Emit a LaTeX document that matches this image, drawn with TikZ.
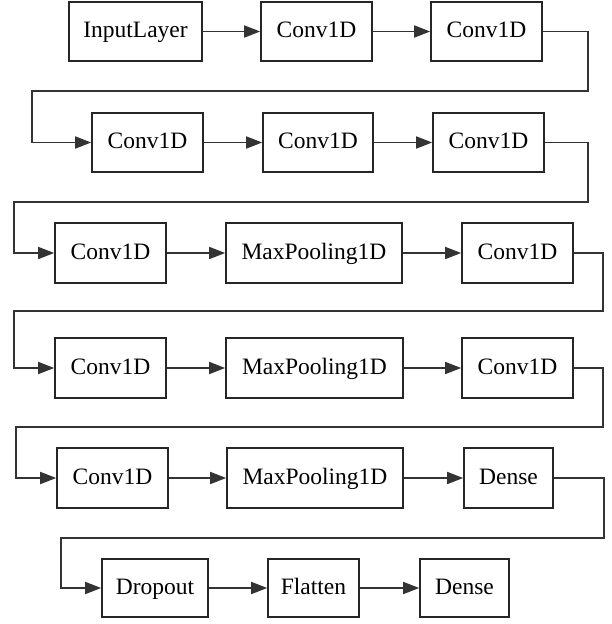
\documentclass[tikz,border=0pt]{standalone}
\usepackage{fontspec}
\setmainfont{Liberation Serif}
\usetikzlibrary{arrows.meta}
\tikzset{
  box/.style={draw=black!85, line width=1.6pt, rectangle, inner sep=0pt, minimum height=59pt, text height=16.5pt, text depth=4.5pt, font=\fontsize{23.5}{28}\selectfont},
  arr/.style={draw=black!80, line width=1.6pt, -{Triangle[length=16pt,width=12pt]}},
}
\begin{document}
\begin{tikzpicture}[x=1pt,y=-1pt]
\useasboundingbox (0,0) rectangle (611,624);
% row 1
\node[box, minimum width=133pt] (n1) at (135.5,31.5) {InputLayer};
\node[box, minimum width=111pt] (n2) at (316.5,31.5) {Conv1D};
\node[box, minimum width=111pt] (n3) at (486.5,31.5) {Conv1D};
% row 2
\node[box, minimum width=111pt] (n4) at (147.5,142.5) {Conv1D};
\node[box, minimum width=110pt] (n5) at (318,142.5) {Conv1D};
\node[box, minimum width=111pt] (n6) at (488.5,142.5) {Conv1D};
% row 3
\node[box, minimum width=111pt, minimum height=60pt] (n7) at (110.5,253) {Conv1D};
\node[box, minimum width=176pt, minimum height=60pt] (n8) at (314,253) {MaxPooling1D};
\node[box, minimum width=111pt, minimum height=60pt] (n9) at (517.5,253) {Conv1D};
% row 4
\node[box, minimum width=111pt, minimum height=60pt] (n10) at (110.5,368) {Conv1D};
\node[box, minimum width=177pt, minimum height=60pt] (n11) at (314.5,368) {MaxPooling1D};
\node[box, minimum width=111pt, minimum height=60pt] (n12) at (517.5,368) {Conv1D};
% row 5
\node[box, minimum width=111pt, minimum height=60pt] (n13) at (112.5,478) {Conv1D};
\node[box, minimum width=176pt, minimum height=60pt] (n14) at (315,478) {MaxPooling1D};
\node[box, minimum width=89pt, minimum height=60pt] (n15) at (508.5,478) {Dense};
% row 6
\node[box, minimum width=106pt, minimum height=58pt] (n16) at (155,588) {Dropout};
\node[box, minimum width=91pt, minimum height=58pt] (n17) at (313.5,588) {Flatten};
\node[box, minimum width=89pt, minimum height=58pt] (n18) at (464.5,588) {Dense};
% horizontal connectors
\draw[arr] (n1) -- (n2);
\draw[arr] (n2) -- (n3);
\draw[arr] (n4) -- (n5);
\draw[arr] (n5) -- (n6);
\draw[arr] (n7) -- (n8);
\draw[arr] (n8) -- (n9);
\draw[arr] (n10) -- (n11);
\draw[arr] (n11) -- (n12);
\draw[arr] (n13) -- (n14);
\draw[arr] (n14) -- (n15);
\draw[arr] (n16) -- (n17);
\draw[arr] (n17) -- (n18);
% row wraps
\draw[arr] (n3.east) -| (588,91) -- (32,91) |- (n4.west);
\draw[arr] (n6.east) -| (588,202) -- (14,202) |- (n7.west);
\draw[arr] (n9.east) -| (603,311) -- (14,311) |- (n10.west);
\draw[arr] (n12.east) -| (603,427) -- (16,427) |- (n13.west);
\draw[arr] (n15.east) -| (604,538) -- (61,538) |- (n16.west);
\end{tikzpicture}
\end{document}
